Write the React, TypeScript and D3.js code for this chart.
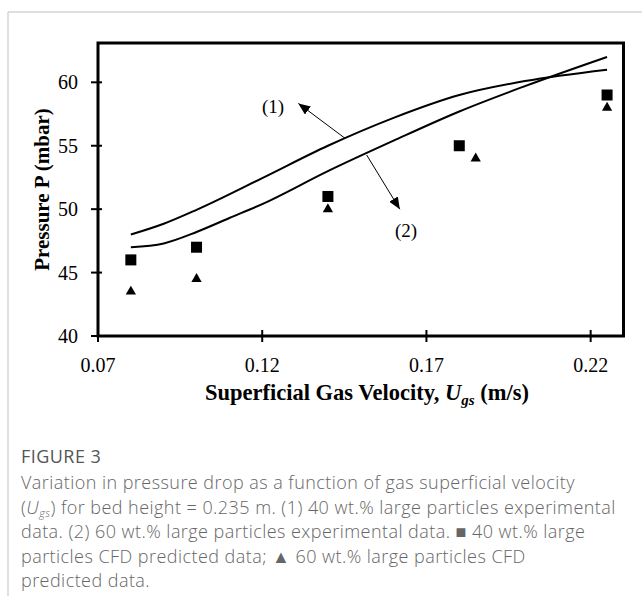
import React from "react";
import * as d3 from "d3";

// Data
const xTicks = [0.07, 0.12, 0.17, 0.22];
const yTicks = [40, 45, 50, 55, 60];
const squareX = [0.08, 0.1, 0.14, 0.18, 0.225];
const squareY = [46, 47, 51, 55, 59];
const triX = [0.08, 0.1, 0.14, 0.185, 0.225];
const triY = [43.5, 44.5, 50, 54, 58];
const line1X = [0.08, 0.09, 0.1, 0.12, 0.14, 0.16, 0.18, 0.2, 0.225];
const line1Y = [48.0, 48.85, 49.95, 52.45, 55.0, 57.2, 59.0, 60.1, 61.0];
const line2X = [0.08, 0.09, 0.1, 0.11, 0.12, 0.14, 0.16, 0.18, 0.2, 0.225];
const line2Y = [47.0, 47.3, 48.2, 49.3, 50.4, 53.0, 55.4, 57.7, 59.7, 62.0];
// annotations [fromX, fromY, tipX, tipY]
const arrow1 = [0.1452, 55.59, 0.131, 58.34];
const arrow2 = [0.1518, 54.27, 0.1619, 49.99];
const label1 = [0.1233, 58.13];
const label2 = [0.1638, 48.28];

const captionLines = [
  "Variation in pressure drop as a function of gas superficial velocity",
  "__UGS__ for bed height = 0.235 m. (1) 40 wt.% large particles experimental",
  "data. (2) 60 wt.% large particles experimental data. ■ 40 wt.% large",
  "particles CFD predicted data; ▲ 60 wt.% large particles CFD",
  "predicted data.",
];

export default function App() {
  const W = 642, H = 596;
  const left = 98, right = 623.5, top = 43, bottom = 336;
  const x = d3.scaleLinear().domain([0.07, 0.23]).range([left, right]);
  const y = d3.scaleLinear().domain([40, 63.1]).range([bottom, top]);
  const serif = "'Liberation Serif', 'Times New Roman', serif";
  const sans = "'Open Sans', 'Noto Sans', sans-serif";

  const lineGen = d3
    .line<[number, number]>()
    .x((d) => x(d[0]))
    .y((d) => y(d[1]))
    .curve(d3.curveMonotoneX);
  const l1 = line1X.map((v, i) => [v, line1Y[i]] as [number, number]);
  const l2 = line2X.map((v, i) => [v, line2Y[i]] as [number, number]);
  const tri = d3.symbol(d3.symbolTriangle, 46)();

  const capStyle = { letterSpacing: "0.45px" } as React.CSSProperties;

  return (
    <svg
      width={W}
      height={H}
      style={{ position: "absolute", left: 0, top: 0, background: "#fff" }}
    >
      <defs>
        <marker
          id="ah"
          viewBox="0 0 12 10"
          refX="12"
          refY="5"
          markerWidth="12"
          markerHeight="10"
          markerUnits="userSpaceOnUse"
          orient="auto"
        >
          <path d="M0,0 L12,5 L0,10 z" fill="#000" />
        </marker>
      </defs>
      <rect x={0} y={0} width={W} height={H} fill="#fff" />
      {/* card border */}
      <line x1={8} y1={12} x2={W} y2={12} stroke="#d4d4d4" strokeWidth={1.5} />
      <line x1={8} y1={12} x2={8} y2={H} stroke="#d4d4d4" strokeWidth={1.5} />

      {/* curves */}
      <path d={lineGen(l1) || ""} fill="none" stroke="#000" strokeWidth={2} />
      <path d={lineGen(l2) || ""} fill="none" stroke="#000" strokeWidth={2} />

      {/* markers */}
      {squareX.map((v, i) => (
        <rect
          key={"s" + i}
          x={x(v) - 5.5}
          y={y(squareY[i]) - 5.5}
          width={11}
          height={11}
          fill="#000"
        />
      ))}
      {triX.map((v, i) => (
        <path
          key={"t" + i}
          d={tri || ""}
          transform={`translate(${x(v)},${y(triY[i])})`}
          fill="#000"
        />
      ))}

      {/* arrows */}
      <line
        x1={x(arrow1[0])}
        y1={y(arrow1[1])}
        x2={x(arrow1[2])}
        y2={y(arrow1[3])}
        stroke="#000"
        strokeWidth={1}
        markerEnd="url(#ah)"
      />
      <line
        x1={x(arrow2[0])}
        y1={y(arrow2[1])}
        x2={x(arrow2[2])}
        y2={y(arrow2[3])}
        stroke="#000"
        strokeWidth={1}
        markerEnd="url(#ah)"
      />
      <text
        x={x(label1[0])}
        y={y(label1[1])}
        textAnchor="middle"
        dominantBaseline="central"
        fontFamily={serif}
        fontSize={19}
      >
        (1)
      </text>
      <text
        x={x(label2[0])}
        y={y(label2[1])}
        textAnchor="middle"
        dominantBaseline="central"
        fontFamily={serif}
        fontSize={19}
      >
        (2)
      </text>

      {/* frame */}
      <rect
        x={left}
        y={top}
        width={right - left}
        height={bottom - top}
        fill="none"
        stroke="#000"
        strokeWidth={3}
      />
      {/* y ticks */}
      {yTicks.map((t) => (
        <g key={"yt" + t}>
          <line x1={left - 7} x2={left + 4} y1={y(t)} y2={y(t)} stroke="#000" strokeWidth={2} />
          <text
            x={left - 20}
            y={y(t)}
            textAnchor="end"
            dominantBaseline="central"
            fontFamily={serif}
            fontSize={20}
          >
            {t}
          </text>
        </g>
      ))}
      {xTicks.map((t) => (
        <g key={"xt" + t}>
          <line x1={x(t)} x2={x(t)} y1={bottom - 6} y2={bottom + 6} stroke="#000" strokeWidth={2} />
          <text
            x={x(t)}
            y={bottom + 36}
            textAnchor="middle"
            fontFamily={serif}
            fontSize={20}
          >
            {t.toFixed(2)}
          </text>
        </g>
      ))}
      {/* axis titles */}
      <text
        transform={`translate(42,${(top + bottom) / 2}) rotate(-90)`}
        textAnchor="middle"
        dominantBaseline="central"
        fontFamily={serif}
        fontWeight="bold"
        fontSize={21}
      >
        Pressure P (mbar)
      </text>
      <text
        x={367}
        y={400}
        textAnchor="middle"
        fontFamily={serif}
        fontWeight="bold"
        fontSize={22.5}
      >
        Superficial Gas Velocity,{" "}
        <tspan fontStyle="italic">U</tspan>
        <tspan fontStyle="italic" fontSize={15} dy={5}>
          gs
        </tspan>
        <tspan dy={-5}> (m/s)</tspan>
      </text>

      {/* caption */}
      <text x={21} y={463} fontFamily={sans} fontSize={18} fill="#555" fontWeight={500} style={capStyle}>
        FIGURE 3
      </text>
      {captionLines.map((ln, i) => {
        const yy = 489 + i * 24.5;
        if (ln.startsWith("__UGS__")) {
          const rest = ln.replace("__UGS__", "");
          return (
            <text key={"c" + i} x={21} y={yy} fontFamily={sans} fontSize={18} fill="#666" fontWeight={300} style={capStyle}>
              (<tspan fontStyle="italic">U</tspan>
              <tspan fontStyle="italic" fontSize={11} dy={3}>
                gs
              </tspan>
              <tspan dy={-3}>){rest}</tspan>
            </text>
          );
        }
        return (
          <text key={"c" + i} x={21} y={yy} fontFamily={sans} fontSize={18} fill="#666" fontWeight={300} style={capStyle}>
            {ln}
          </text>
        );
      })}
    </svg>
  );
}
